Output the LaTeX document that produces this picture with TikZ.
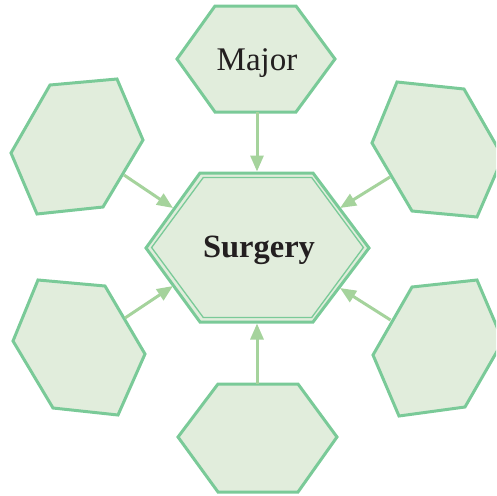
\documentclass[tikz,border=0pt]{standalone}
\usepackage{fontspec}
\setmainfont{Liberation Serif}
\usetikzlibrary{arrows.meta}
\definecolor{hexfill}{RGB}{225,237,220}
\definecolor{hexline}{RGB}{122,202,152}
\definecolor{arrowc}{RGB}{165,211,156}
\definecolor{txt}{RGB}{35,31,32}
\begin{document}
\begin{tikzpicture}[x=1pt,y=-1pt,
  hex/.style={draw=hexline,fill=hexfill,line width=3pt,line join=miter},
  innerhex/.style={draw=hexline,line width=1.3pt,line join=miter},
  conn/.style={draw=arrowc,line width=3pt,-{Triangle[length=16pt,width=13pt]}},
  lbl/.style={anchor=base,inner sep=0pt,text=txt}]
\useasboundingbox (0,0) rectangle (496,496);
\clip (0,0) rectangle (496,496);
% top hexagon
\draw[hex] (215,6) -- (296,6) -- (335,59) -- (296,112) -- (215,112) -- (177,59) -- cycle;
% central hexagon
\draw[hex] (200,173) -- (313,173) -- (369,248) -- (313,322) -- (200,322) -- (146,248) -- cycle;
\draw[innerhex] (203.3,177.5) -- (311.7,177.5) -- (363.4,247.5) -- (311.7,317.5) -- (203.3,317.5) -- (151.6,247.5) -- cycle;
% bottom hexagon
\draw[hex] (218,384) -- (298,384) -- (337,437) -- (298,492) -- (218,492) -- (178,437) -- cycle;
% left top
\draw[hex] (50,85) -- (117,79) -- (143,140) -- (103,207) -- (37,214) -- (11,153) -- cycle;
% right top
\draw[hex] (397,82) -- (464,89) -- (503,157) -- (477,217) -- (412,211) -- (372,143) -- cycle;
% left bottom
\draw[hex] (38,280) -- (105,286) -- (145,354) -- (118,415) -- (53,408) -- (13,341) -- cycle;
% right bottom
\draw[hex] (412,287) -- (477,280) -- (503,341) -- (465,407) -- (399,416) -- (373,355) -- cycle;
% labels
\node[lbl,font=\fontsize{33}{33}\selectfont] (major) at (257,70) {Major};
\node[lbl,font=\fontsize{32.5}{33}\selectfont\bfseries] (surgery) at (259,257) {Surgery};
% connector end points
\coordinate (topS) at (257,112);
\coordinate (topE) at (257,171.5);
\coordinate (botS) at (257,384);
\coordinate (botE) at (257,323.5);
\coordinate (ltS) at (124,175);
\coordinate (ltE) at (173,208);
\coordinate (rtS) at (390,177);
\coordinate (rtE) at (340,208);
\coordinate (lbS) at (125,318);
\coordinate (lbE) at (173,286);
\coordinate (rbS) at (390.5,320);
\coordinate (rbE) at (340,288);
\draw[conn] (topS) -- (topE);
\draw[conn] (botS) -- (botE);
\draw[conn] (ltS) -- (ltE);
\draw[conn] (rtS) -- (rtE);
\draw[conn] (lbS) -- (lbE);
\draw[conn] (rbS) -- (rbE);
\end{tikzpicture}
\end{document}
